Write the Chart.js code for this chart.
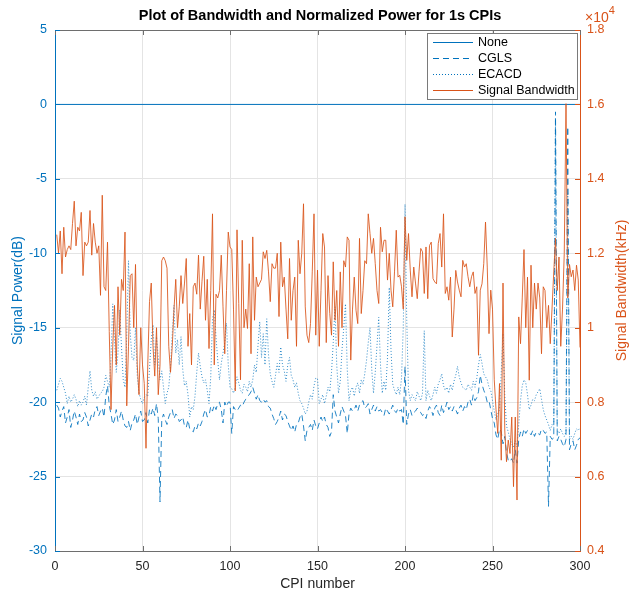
<!DOCTYPE html>
<html>
<head>
<meta charset="utf-8">
<script src="https://cdn.jsdelivr.net/npm/chart.js@4.4.1/dist/chart.umd.min.js"></script>
<style>
  html, body { margin: 0; padding: 0; background: #fff; }
  #wrap { position: relative; width: 632px; height: 594px; }
</style>
</head>
<body>
<div id="wrap"><canvas id="plot" width="632" height="594"></canvas></div>
<script>
// Signal bandwidth per CPI, kHz (right axis)
const bandwidthKHz = [
  12500, 12000, 12600, 11450, 12700, 11900, 12100, 12200, 12100, 12800,
  13400, 12200, 12700, 12600, 13100, 11400, 12300, 12200, 12300, 13150,
  11950, 12800, 12300, 12000, 12200, 10870, 13560, 11100, 11000, 12300,
  9900, 7800, 9500, 10600, 9000, 11100, 9800, 11300, 11000, 12570,
  7900, 9500, 11400, 11450, 10000, 11700, 9000, 8200, 10000, 9000,
  8500, 6760, 9000, 10700, 11200, 9500, 8700, 10000, 8200, 9000,
  11800, 11900, 11800, 11600, 9500, 8800, 9500, 10500, 11300, 10000,
  10560, 11400, 10650, 11200, 11860, 9500, 10380, 9000, 11100, 11200,
  10900, 11950, 10500, 11250, 11920, 10200, 11300, 9440, 11000, 13060,
  9000, 10900, 10800, 11000, 11950, 10560, 9300, 11000, 12570, 12170,
  12100, 10500, 8300, 12630, 10650, 8600, 12350, 10000, 10500, 9980,
  11720, 9300, 12440, 10200, 11360, 11100, 11200, 11300, 12040, 11860,
  12080, 11500, 10700, 11720, 11600, 11600, 12000, 10300, 12300, 11100,
  11360, 10500, 9700, 11860, 10200, 11000, 11360, 9500, 12350, 11450,
  12000, 13330, 10560, 9800, 9600, 10110, 11500, 13060, 9800, 11550,
  9500, 11000, 12530, 12170, 9600, 11400, 10380, 9800, 11770, 10200,
  11000, 9500, 11500, 10000, 11800, 11630, 12440, 12350, 9130, 10500,
  11360, 10470, 10110, 12400, 10380, 11000, 11800, 11720, 13060, 12530,
  12000, 12400, 11720, 11000, 10650, 12700, 12040, 12350, 12350, 11280,
  12000, 11010, 10560, 11500, 12620, 11360, 11410, 11100, 10500, 12980,
  11810, 12530, 11550, 10830, 11630, 11200, 10780, 11500, 12130, 12040,
  10920, 12170, 10780, 12210, 12300, 11320, 11230, 11180, 12260, 12530,
  11630, 13060, 10920, 11100, 10740, 11360, 9750, 10500, 11540, 11230,
  11010, 10830, 11810, 11630, 11720, 11370, 11100, 11370, 11500, 10920,
  11100, 9260, 11010, 11180, 11720, 12840, 11630, 9840, 11010, 10500,
  8600, 7800, 7160, 8500, 6440, 11200, 7250, 6400, 6980, 6620,
  7600, 5730, 7600, 5370, 10290, 9570, 10800, 12100, 10000, 11360,
  8590, 11680, 10000, 11200, 10500, 11200, 10800, 9300, 11100, 11000,
  10000, 10600, 9570, 10500, 11500, 12400, 11000, 11900, 9500, 10500,
  12000, 16020, 10800, 11700, 11370, 11550, 11000, 11680, 11280, 9470
];

// Normalized power after CGLS, dB
const cglsDb = [
  -20.2, -20.4, -21.0, -20.6, -20.3, -21.4, -21.0, -20.5, -21.7, -21.2,
  -20.6, -21.0, -21.5, -20.8, -21.3, -21.2, -20.7, -21.0, -21.6, -21.2,
  -20.8, -21.0, -20.5, -20.3, -20.9, -20.6, -20.4, -21.0, -19.6, -18.9,
  -20.2, -20.8, -21.5, -21.2, -20.5, -21.3, -21.0, -20.6, -21.2, -21.6,
  -21.7, -21.3, -21.9, -21.4, -21.2, -20.8, -21.5, -21.0, -20.6, -21.3,
  -21.2, -20.7, -21.4, -20.5, -20.8, -20.4, -20.9, -20.1, -21.1, -26.7,
  -21.2, -20.8, -21.2, -21.5, -21.0, -20.7, -20.5, -21.1, -20.8, -20.9,
  -21.3, -21.2, -21.0, -21.6, -21.7, -21.2, -21.8, -21.9, -22.0, -21.6,
  -21.8, -21.4, -21.6, -21.3, -20.8, -20.5, -21.0, -20.9, -20.3, -20.6,
  -20.2, -20.5, -20.1, -20.0, -20.5, -21.4, -20.0, -20.3, -20.0, -20.0,
  -22.1, -20.3, -20.5, -20.6, -20.4, -20.2, -20.3, -20.0, -19.8, -19.6,
  -19.5, -19.3, -19.0, -19.4, -19.8, -19.5, -19.9, -20.0, -19.8, -20.0,
  -19.9, -20.3, -20.4, -20.8, -21.1, -21.5, -21.3, -21.0, -20.6, -21.2,
  -20.8, -20.9, -21.3, -21.6, -21.9, -21.6, -22.0, -21.5, -21.4, -21.0,
  -20.8, -21.6, -22.6, -21.9, -21.7, -21.5, -21.9, -21.2, -21.6, -21.8,
  -21.4, -21.0, -21.3, -21.0, -21.5, -21.7, -22.3, -22.0, -19.5, -20.6,
  -21.0, -21.4, -20.8, -20.3, -20.6, -20.9, -22.1, -20.8, -20.4, -20.6,
  -20.5, -20.2, -20.6, -20.2, -20.0, -19.9, -20.4, -20.3, -20.1, -20.8,
  -20.5, -20.2, -20.6, -20.3, -20.6, -20.5, -20.7, -20.9, -20.4, -20.6,
  -20.8, -20.5, -20.2, -20.6, -20.7, -20.4, -20.6, -20.5, -21.5, -17.6,
  -21.5, -20.8, -20.5, -20.9, -20.7, -20.6, -20.4, -20.6, -20.7, -20.9,
  -20.8, -21.1, -20.6, -20.3, -20.5, -20.9, -20.4, -20.2, -20.7, -20.9,
  -20.2, -20.7, -20.4, -20.0, -20.5, -20.3, -20.6, -20.3, -20.5, -20.8,
  -20.4, -20.2, -20.6, -20.3, -20.5, -20.0, -19.8, -20.2, -19.5, -19.9,
  -19.7, -19.3, -18.2, -18.8, -19.2, -19.5, -20.0, -19.9, -20.5, -21.1,
  -21.4, -22.2, -22.5, -21.8, -22.0, -22.8, -22.3, -23.4, -23.9, -24.0,
  -23.8, -24.1, -23.2, -24.1, -22.5, -22.0, -22.3, -21.8, -22.1, -21.9,
  -22.0, -22.2, -21.9, -22.3, -22.0, -22.1, -22.2, -21.8, -21.9, -22.1,
  -22.0, -27.0, -22.3, -22.5, -22.4, -0.5, -22.6, -22.3, -22.5, -22.8,
  -23.0, -22.5, -1.5, -23.2, -22.8, -22.6, -23.2, -22.9, -22.5, -22.4
];

// Normalized power after ECACD, dB
const ecacdDb = [
  -19.2, -18.8, -18.4, -18.6, -19.0, -19.4, -20.1, -19.6, -20.0, -19.8,
  -19.5, -19.8, -20.3, -19.9, -20.2, -20.0, -19.6, -20.2, -19.0, -17.9,
  -19.2, -19.6, -19.3, -19.8, -19.6, -19.4, -19.3, -19.0, -18.2, -18.6,
  -19.0, -17.0, -13.4, -15.8, -18.0, -16.7, -13.8, -16.3, -18.5, -19.0,
  -15.5, -10.5, -15.4, -17.0, -17.2, -15.0, -18.2, -19.4, -19.8, -20.1,
  -19.7, -19.5, -19.6, -17.8, -15.8, -14.8, -17.5, -15.6, -17.0, -18.5,
  -17.9, -19.0, -20.1, -19.4, -19.0, -17.6, -15.4, -13.5, -16.7, -15.8,
  -17.5, -15.6, -17.8, -18.9, -18.6, -19.5, -21.0, -20.3, -20.5, -19.6,
  -18.0, -16.7, -17.6, -18.3, -18.7, -18.5, -19.2, -20.1, -18.3, -14.4,
  -13.8, -15.6, -17.2, -18.5, -17.4, -16.7, -16.0, -14.7, -17.5, -19.0,
  -19.1, -19.4, -19.0, -18.3, -18.7, -19.2, -19.4, -18.8, -19.0, -19.3,
  -18.6, -19.0, -18.5, -17.5, -18.0, -16.2, -14.6, -17.0, -15.4, -17.5,
  -14.4, -16.8, -18.1, -18.6, -19.0, -18.2, -17.4, -18.0, -16.3, -17.5,
  -17.9, -18.6, -17.5, -17.0, -18.2, -18.5, -19.0, -18.7, -19.4, -19.9,
  -20.1, -20.4, -20.8, -20.6, -20.0, -19.5, -19.8, -18.9, -18.4, -18.4,
  -20.1, -19.8, -19.5, -20.1, -19.6, -19.0, -19.3, -18.0, -16.0, -13.6,
  -17.5, -19.4, -18.6, -16.5, -15.0, -13.4, -17.8, -19.9, -19.2, -19.0,
  -19.6, -19.0, -18.7, -19.4, -18.5, -18.8, -18.1, -17.2, -16.0, -15.0,
  -17.8, -19.4, -18.0, -16.2, -14.3, -17.5, -19.4, -18.6, -19.2, -17.0,
  -12.3, -16.5, -18.8, -19.2, -19.5, -19.0, -19.5, -18.4, -15.0, -6.7,
  -14.5, -19.2, -19.9, -19.5, -19.7, -19.9, -19.3, -19.6, -19.9, -19.4,
  -15.2, -19.9, -19.2, -19.6, -19.9, -19.5, -19.0, -19.4, -18.8, -18.5,
  -18.1, -18.9, -19.2, -19.0, -19.4, -18.8, -19.2, -18.6, -18.2, -17.6,
  -18.3, -18.7, -19.0, -19.1, -19.2, -18.8, -19.0, -19.2, -18.6, -19.0,
  -18.4, -17.5, -16.8, -17.4, -18.1, -18.3, -18.5, -19.0, -19.2, -19.9,
  -20.6, -21.2, -20.8, -20.5, -18.0, -15.4, -19.5, -21.6, -22.0, -22.5,
  -22.8, -23.0, -22.6, -23.0, -21.5, -19.9, -18.9, -18.5, -18.7, -19.5,
  -20.5, -20.2, -19.8, -19.9, -19.5, -19.3, -19.1, -19.8, -20.5, -20.9,
  -21.2, -21.5, -21.9, -21.5, -21.7, -1.0, -21.9, -22.1, -21.8, -22.1,
  -22.3, -22.0, -6.0, -22.5, -22.3, -22.5, -22.1, -21.8, -21.9, -21.7
];

// reference level with no cancellation (flat 0 dB)
const noneCpi = [0, 300];
const noneDb = [0, 0];

const cpiTicks = [0, 50, 100, 150, 200, 250, 300];
const powerTicks = [-30, -25, -20, -15, -10, -5, 0, 5];
const bandwidthTicks = [4000, 6000, 8000, 10000, 12000, 14000, 16000, 18000];

const BLUE = '#0072BD';
const ORANGE = '#D95319';
const AXIS = '#6e6e6e';
const GRID = '#e4e4e4';
const FONT = "'Liberation Sans', Arial, Helvetica, sans-serif";

const toPoints = (vals) => vals.map((v, i) => ({ x: i + 1, y: v }));

// MATLAB-style extras: inward ticks, top box edge, legend, exponent, right label
const decorations = {
  id: 'decorations',
  afterDraw(chart) {
    const { ctx, chartArea: a, scales } = chart;
    ctx.save();
    ctx.lineWidth = 1;

    // top edge of the box
    ctx.strokeStyle = AXIS;
    ctx.beginPath();
    ctx.moveTo(a.left, a.top + 0.5);
    ctx.lineTo(a.right, a.top + 0.5);
    ctx.stroke();

    // inward tick marks
    cpiTicks.forEach(v => {
      const x = Math.round(scales.x.getPixelForValue(v)) + 0.5;
      ctx.beginPath();
      ctx.moveTo(x, a.bottom); ctx.lineTo(x, a.bottom - 5);
      ctx.moveTo(x, a.top); ctx.lineTo(x, a.top + 5);
      ctx.stroke();
    });
    ctx.strokeStyle = BLUE;
    powerTicks.forEach(v => {
      const y = Math.round(scales.y.getPixelForValue(v)) + 0.5;
      ctx.beginPath(); ctx.moveTo(a.left, y); ctx.lineTo(a.left + 5, y); ctx.stroke();
    });
    ctx.strokeStyle = ORANGE;
    bandwidthTicks.forEach(v => {
      const y = Math.round(scales.y1.getPixelForValue(v)) + 0.5;
      ctx.beginPath(); ctx.moveTo(a.right, y); ctx.lineTo(a.right - 5, y); ctx.stroke();
    });

    // title
    ctx.fillStyle = '#000';
    ctx.font = 'bold 14.5px ' + FONT;
    ctx.textAlign = 'center';
    ctx.textBaseline = 'middle';
    ctx.fillText('Plot of Bandwidth and Normalized Power for 1s CPIs', 320, 16);

    // exponent over the right axis
    ctx.fillStyle = ORANGE;
    ctx.textAlign = 'left';
    ctx.textBaseline = 'alphabetic';
    ctx.font = '14px ' + FONT;
    ctx.fillText('\u00d710', a.right + 5, 22);
    const w = ctx.measureText('\u00d710').width;
    ctx.font = '11px ' + FONT;
    ctx.fillText('4', a.right + 5 + w, 14);

    // right axis label, reading bottom to top
    ctx.save();
    ctx.translate(622, (a.top + a.bottom) / 2);
    ctx.rotate(-Math.PI / 2);
    ctx.textAlign = 'center';
    ctx.textBaseline = 'middle';
    ctx.font = '14px ' + FONT;
    ctx.fillText('Signal Bandwidth(kHz)', 0, 0);
    ctx.restore();

    // legend
    const lx = 427, ly = 33, lw = 150, lh = 66;
    ctx.fillStyle = '#fff';
    ctx.fillRect(lx, ly, lw, lh);
    ctx.strokeStyle = '#7a7a7a';
    ctx.strokeRect(lx + 0.5, ly + 0.5, lw, lh);
    const entries = [
      { label: 'None', color: BLUE, dash: [] },
      { label: 'CGLS', color: BLUE, dash: [6, 4] },
      { label: 'ECACD', color: BLUE, dash: [1, 2] },
      { label: 'Signal Bandwidth', color: ORANGE, dash: [] }
    ];
    ctx.font = '12.5px ' + FONT;
    ctx.textBaseline = 'middle';
    ctx.textAlign = 'left';
    entries.forEach((e, k) => {
      const y = ly + 9.5 + k * 16;
      ctx.strokeStyle = e.color;
      ctx.setLineDash(e.dash);
      ctx.beginPath(); ctx.moveTo(lx + 6, y); ctx.lineTo(lx + 46, y); ctx.stroke();
      ctx.setLineDash([]);
      ctx.fillStyle = '#000';
      ctx.fillText(e.label, lx + 51, y);
    });
    ctx.restore();
  }
};

Chart.defaults.font.family = FONT;

new Chart(document.getElementById('plot'), {
  type: 'line',
  data: {
    datasets: [
      {
        label: 'Signal Bandwidth',
        data: toPoints(bandwidthKHz),
        yAxisID: 'y1',
        borderColor: 'rgba(217, 83, 25, 0.85)',
        borderWidth: 1,
        pointRadius: 0,
        tension: 0,
        order: 0
      },
      {
        label: 'None',
        data: noneCpi.map((x, i) => ({ x, y: noneDb[i] })),
        yAxisID: 'y',
        borderColor: BLUE,
        borderWidth: 1,
        pointRadius: 0,
        order: 1
      },
      {
        label: 'CGLS',
        data: toPoints(cglsDb),
        yAxisID: 'y',
        borderColor: 'rgba(0, 114, 189, 0.85)',
        borderWidth: 1,
        borderDash: [6, 4],
        pointRadius: 0,
        tension: 0,
        order: 2
      },
      {
        label: 'ECACD',
        data: toPoints(ecacdDb),
        yAxisID: 'y',
        borderColor: 'rgba(0, 114, 189, 0.8)',
        borderWidth: 1,
        borderDash: [1, 2],
        pointRadius: 0,
        tension: 0,
        order: 3
      }
    ]
  },
  options: {
    responsive: false,
    animation: false,
    events: [],
    layout: { padding: { top: 30, left: 0, right: 0, bottom: 0 } },
    plugins: {
      legend: { display: false },
      tooltip: { enabled: false },
      title: { display: false }
    },
    scales: {
      x: {
        type: 'linear',
        min: 0,
        max: 300,
        afterBuildTicks: s => { s.ticks = cpiTicks.map(v => ({ value: v })); },
        afterFit: s => { s.height = 43; },
        grid: { color: GRID, drawTicks: false },
        border: { color: AXIS },
        ticks: { color: '#262626', padding: 8, maxRotation: 0, font: { size: 12.5 } },
        title: { display: true, text: 'CPI number', color: '#262626', font: { size: 14 }, padding: { top: 0, bottom: 1 } }
      },
      y: {
        position: 'left',
        min: -30,
        max: 5,
        afterBuildTicks: s => { s.ticks = powerTicks.map(v => ({ value: v })); },
        afterFit: s => { s.width = 55; },
        grid: { color: GRID, drawTicks: false },
        border: { color: BLUE },
        ticks: { color: BLUE, padding: 8, font: { size: 12.5 } },
        title: { display: true, text: 'Signal Power(dB)', color: BLUE, font: { size: 14 }, padding: { top: 10, bottom: 0 } }
      },
      y1: {
        position: 'right',
        min: 4000,
        max: 18000,
        afterBuildTicks: s => { s.ticks = bandwidthTicks.map(v => ({ value: v })); },
        afterFit: s => { s.width = 52; },
        grid: { display: false, drawTicks: false },
        border: { color: ORANGE },
        ticks: { color: ORANGE, padding: 7, font: { size: 12.5 }, callback: v => String(v / 10000) }
      }
    }
  },
  plugins: [decorations]
});
</script>
</body>
</html>
